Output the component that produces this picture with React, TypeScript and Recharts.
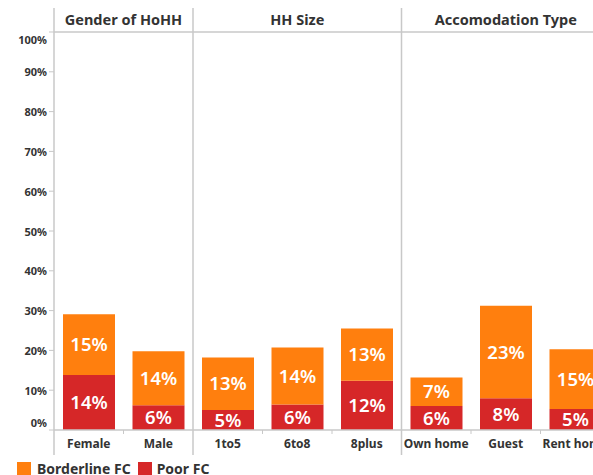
import { BarChart, Bar, XAxis, YAxis, ReferenceLine, ReferenceArea, LabelList, Legend } from 'recharts';

const categories = ['Female', 'Male', '1to5', '6to8', '8plus', 'Own home', 'Guest', 'Rent home'];
const poorFC = [13.8, 6.2, 5.0, 6.4, 12.4, 6.0, 8.0, 5.3];
const borderlineFC = [15.3, 13.6, 13.2, 14.3, 13.1, 7.2, 23.2, 15.0];
const panelTitles = ['Gender of HoHH', 'HH Size', 'Accomodation Type'];
const panelSizes = [2, 3, 3];
const yTicks = [0, 10, 20, 30, 40, 50, 60, 70, 80, 90, 100];

const ORANGE = '#ff7f0e';
const RED = '#d62728';
const GRID = '#c8c8c8';
const TEXT = '#333';
const FONT = '"Noto Sans", sans-serif';

// y domain reaches above 100% (header row) and below 0% (axis labels)
const Y_TOP = 106.03;
const Y_BOTTOM = -1.256;
const LINE_BOTTOM = -6.3;

const data = categories.map((name, i) => ({ name, poor: poorFC[i], borderline: borderlineFC[i] }));

// panel first/last category
const panels = panelTitles.map((title, i) => {
  const from = panelSizes.slice(0, i).reduce((a, b) => a + b, 0);
  return { title, first: categories[from], last: categories[from + panelSizes[i] - 1] };
});
const panelStarts = panels.map((p) => p.first);
const innerStarts = categories.filter((c) => !panelStarts.includes(c));

const YTick = ({ x, y, payload }: any) => {
  let dy = 0;
  if (payload.value === 100) dy = 8;
  if (payload.value === 0) dy = -8;
  return (
    <text x={x} y={y + dy} textAnchor="end" dominantBaseline="central" fontSize={11} fontWeight={700} fill={TEXT} fontFamily={FONT}>
      {payload.value}%
    </text>
  );
};

const XTick = ({ x, y, payload }: any) => (
  <text x={x} y={y + 8} textAnchor="middle" dominantBaseline="central" fontSize={12} fontWeight={700} fill={TEXT} fontFamily={FONT}>
    {payload.value}
  </text>
);

const LegendContent = () => (
  <div style={{ display: 'flex', alignItems: 'center', paddingLeft: 17, paddingTop: 6, fontFamily: FONT, fontSize: 14, fontWeight: 700, color: TEXT, lineHeight: '16px' }}>
    <span style={{ width: 14, height: 14, background: ORANGE, display: 'inline-block', marginRight: 6 }} />
    <span style={{ marginRight: 7 }}>Borderline FC</span>
    <span style={{ width: 14, height: 14, background: RED, display: 'inline-block', marginRight: 5 }} />
    <span>Poor FC</span>
  </div>
);

const pct = (v: any) => `${Math.round(Number(v))}%`;

export default function App() {
  return (
    <div style={{ position: 'absolute', left: 0, top: 0, width: 593, height: 475, overflow: 'hidden', background: '#fff' }}>
      <BarChart width={610} height={475} data={data} margin={{ top: 8, right: 0, bottom: 0, left: 0 }}>
        <XAxis dataKey="name" height={20} axisLine={false} tickLine={false} tickSize={0} tickMargin={0} tick={<XTick />} interval={0} />
        <YAxis
          type="number"
          domain={[Y_BOTTOM, Y_TOP]}
          allowDataOverflow
          ticks={yTicks}
          width={54}
          tick={<YTick />}
          tickSize={5}
          axisLine={false}
          tickLine={{ stroke: GRID }}
        />
        {panels.map((p) => (
          <ReferenceArea
            key={p.title}
            x1={p.first}
            x2={p.last}
            y1={100}
            y2={Y_TOP}
            fillOpacity={0}
            strokeOpacity={0}
            label={{ value: p.title, position: 'center', fill: TEXT, fontSize: 14.5, fontWeight: 700, fontFamily: FONT }}
          />
        ))}
        <ReferenceLine y={100} stroke={GRID} strokeWidth={1.5} />
        <ReferenceLine y={0} stroke={GRID} strokeWidth={1.5} />
        {panelStarts.map((c) => (
          <ReferenceLine
            key={c}
            position="start"
            segment={[{ x: c, y: LINE_BOTTOM }, { x: c, y: Y_TOP }]}
            ifOverflow="visible"
            stroke={GRID}
            strokeWidth={1.5}
          />
        ))}
        {innerStarts.map((c) => (
          <ReferenceLine key={c} position="start" segment={[{ x: c, y: 0 }, { x: c, y: -1 }]} stroke={GRID} />
        ))}
        <Bar dataKey="poor" stackId="a" fill={RED} barSize={52} isAnimationActive={false}>
          <LabelList dataKey="poor" position="center" formatter={pct} fill="#fff" fontSize={18.5} fontWeight={600} fontFamily={FONT} />
        </Bar>
        <Bar dataKey="borderline" stackId="a" fill={ORANGE} barSize={52} isAnimationActive={false}>
          <LabelList dataKey="borderline" position="center" formatter={pct} fill="#fff" fontSize={18.5} fontWeight={600} fontFamily={FONT} />
        </Bar>
        <Legend verticalAlign="bottom" align="left" height={20} content={<LegendContent />} />
      </BarChart>
    </div>
  );
}
